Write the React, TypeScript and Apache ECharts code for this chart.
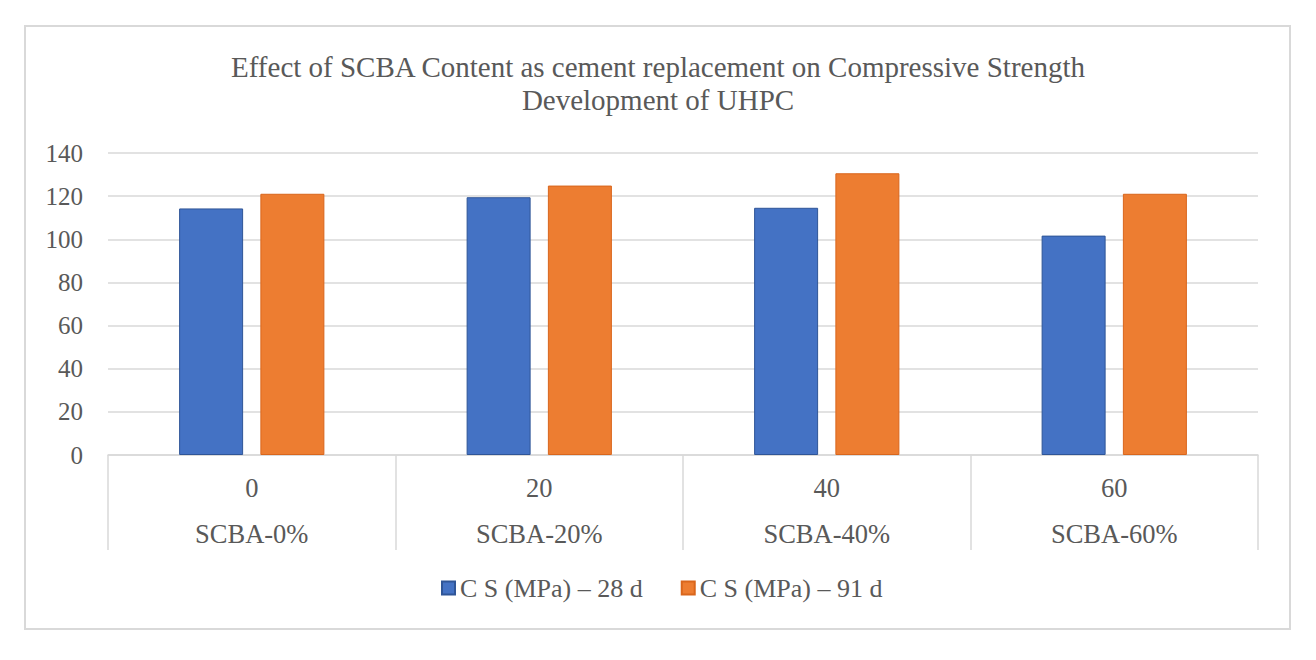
import React, { useEffect, useRef } from "react";
import * as echarts from "echarts";

const contents = ["0", "20", "40", "60"];
const mixLabels = ["SCBA-0%", "SCBA-20%", "SCBA-40%", "SCBA-60%"];
const cs28 = [114.3, 119.5, 114.6, 101.7];
const cs91 = [121.1, 124.9, 130.6, 121.1];
const seriesNames = ["C S (MPa) – 28 d", "C S (MPa) – 91 d"];

const FONT = '"Liberation Serif", "Times New Roman", serif';
const TEXT = "#595959";
const LINE = "#d9d9d9";

const App: React.FC = () => {
	const chartRef = useRef<HTMLDivElement>(null);

	useEffect(() => {
		if (!chartRef.current) return;
		const chart = echarts.init(chartRef.current, undefined, { renderer: "svg" });

		const option = {
			animation: false,
			backgroundColor: "#fff",
			textStyle: { fontFamily: FONT, color: TEXT },
			graphic: [
				{
					type: "rect",
					shape: { x: 25, y: 26, width: 1265, height: 603 },
					style: { fill: "none", stroke: LINE, lineWidth: 2 },
					silent: true,
				},
			],
			title: {
				text: "Effect of SCBA Content as cement replacement on Compressive Strength\nDevelopment of UHPC",
				left: "center",
				top: 50,
				padding: 0,
				textStyle: {
					fontFamily: FONT,
					fontWeight: "normal",
					fontSize: 29,
					lineHeight: 33,
					color: TEXT,
				},
			},
			legend: {
				left: 441,
				top: 575,
				padding: 0,
				icon: "rect",
				itemWidth: 13,
				itemHeight: 13,
				itemGap: 38,
				textStyle: { fontFamily: FONT, fontSize: 26, color: TEXT, padding: [0, 0, 0, 0] },
				data: seriesNames,
			},
			grid: { left: 108, right: 58, top: 153, bottom: 205, containLabel: false },
			xAxis: [
				{
					type: "category",
					data: contents,
					position: "bottom",
					axisLine: { show: true, lineStyle: { color: LINE, width: 1.5 } },
					axisTick: { show: true, interval: 0, length: 95, lineStyle: { color: LINE, width: 1.5 } },
					axisLabel: { margin: 19, fontFamily: FONT, fontSize: 26.5, color: TEXT },
				},
				{
					type: "category",
					data: mixLabels,
					position: "bottom",
					axisLine: { show: false },
					axisTick: { show: false },
					axisLabel: { margin: 65, fontFamily: FONT, fontSize: 26.5, color: TEXT },
				},
			],
			yAxis: {
				type: "value",
				min: 0,
				max: 140,
				interval: 20,
				axisLine: { show: false },
				axisTick: { show: false },
				axisLabel: { margin: 25, fontFamily: FONT, fontSize: 25, color: TEXT },
				splitLine: { lineStyle: { color: LINE, width: 1.5 } },
			},
			series: [
				{
					name: seriesNames[0],
					type: "bar",
					data: cs28,
					barWidth: 64,
					barGap: "27%",
					itemStyle: { color: "#4472C4", borderColor: "#2F5597", borderWidth: 1 },
				},
				{
					name: seriesNames[1],
					type: "bar",
					data: cs91,
					barWidth: 64,
					itemStyle: { color: "#ED7D31", borderColor: "#D9661C", borderWidth: 1 },
				},
			],
		};

		chart.setOption(option);
		return () => chart.dispose();
	}, []);

	return (
		<div
			ref={chartRef}
			style={{ position: "absolute", left: 0, top: 0, width: 1316, height: 660 }}
		/>
	);
};

export default App;
